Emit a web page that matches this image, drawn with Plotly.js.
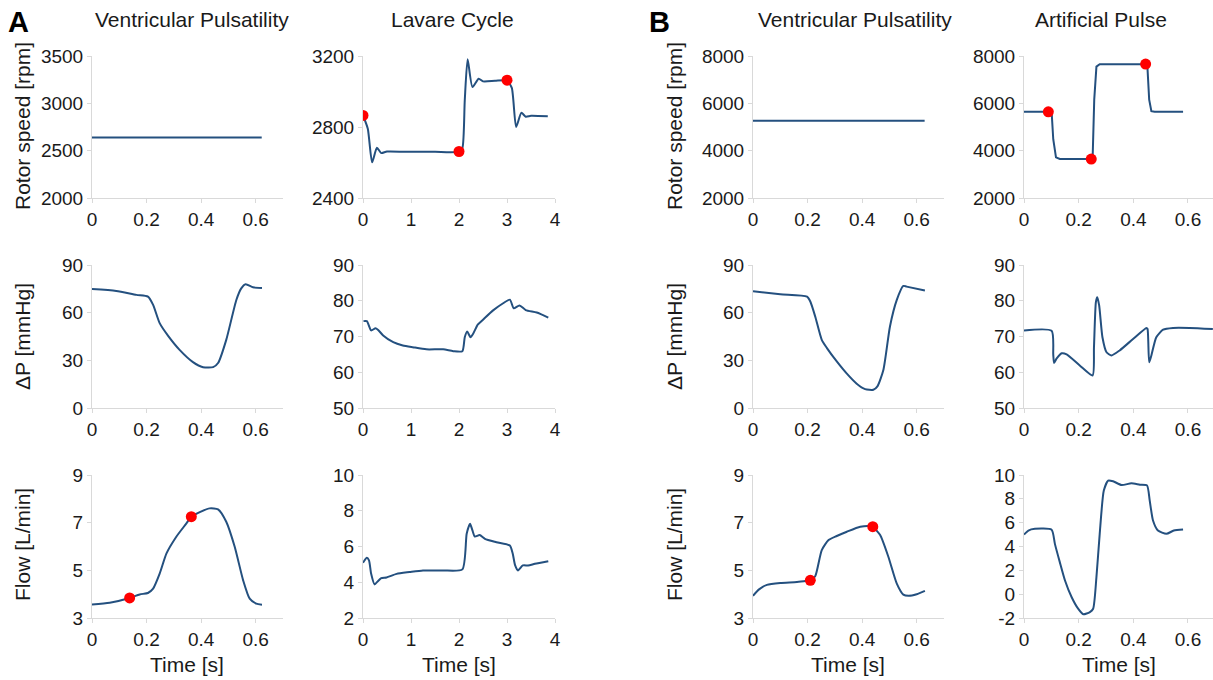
<!DOCTYPE html>
<html>
<head>
<meta charset="utf-8">
<script src="https://cdn.plot.ly/plotly-3.0.1.min.js"></script>
<style>html,body{margin:0;padding:0;background:#fff;}#chart{width:1213px;height:680px;}</style>
</head>
<body>
<div id="chart"></div>
<script>
// ---------- DATA ----------
// Panel A: Ventricular Pulsatility
const tA_vp_speed = [0, 0.622];
const A_vp_speed = [2640, 2640];

const tA_vp_dp = [0, 0.089, 0.163, 0.205, 0.224, 0.248, 0.279, 0.321, 0.37, 0.407, 0.444, 0.462, 0.492, 0.529, 0.547, 0.563, 0.59, 0.623];
const A_vp_dp = [74.9, 73.7, 71.2, 70.1, 64.9, 53.4, 45.4, 36.6, 28.9, 25.7, 25.7, 28.3, 42.9, 68, 75.3, 77.9, 76, 75.6];

const tA_vp_flow = [0, 0.065, 0.138, 0.175, 0.205, 0.224, 0.248, 0.273, 0.309, 0.346, 0.364, 0.395, 0.431, 0.462, 0.492, 0.523, 0.554, 0.578, 0.602, 0.623];
const A_vp_flow = [3.57, 3.64, 3.84, 3.99, 4.05, 4.23, 4.86, 5.71, 6.41, 6.97, 7.25, 7.44, 7.6, 7.56, 7.04, 5.99, 4.58, 3.81, 3.6, 3.56];
const tA_vp_flow_mk = [0.138, 0.364];
const A_vp_flow_mk = [3.84, 7.25];

// Panel A: Lavare Cycle
const tA_lc_speed = [0, 0.1, 0.19, 0.29, 0.38, 0.5, 1.0, 1.5, 2.0, 2.07, 2.12, 2.18, 2.28, 2.41, 2.5, 2.75, 3.0, 3.1, 3.19, 3.3, 3.39, 3.5, 3.85];
const A_lc_speed = [2865, 2790, 2601, 2683, 2653, 2662, 2660, 2660, 2661, 2680, 2950, 3181, 3025, 3072, 3057, 3060, 3062, 3020, 2800, 2880, 2858, 2863, 2860];
const tA_lc_speed_mk = [0, 2.0, 3.0];
const A_lc_speed_mk = [2865, 2662, 3064];

const tA_lc_dp = [0.01, 0.08, 0.17, 0.26, 0.31, 0.42, 0.63, 0.83, 1.04, 1.32, 1.67, 1.88, 2.07, 2.12, 2.17, 2.24, 2.3, 2.39, 2.5, 2.71, 2.92, 3.06, 3.14, 3.26, 3.39, 3.62, 3.86];
const A_lc_dp = [74.3, 74.3, 71.7, 72.3, 71.9, 70.3, 68.4, 67.5, 67, 66.4, 66.4, 65.9, 65.9, 69.8, 71.4, 69.8, 70.9, 73.3, 74.7, 77.3, 79.3, 80.3, 77.9, 78.7, 77.4, 76.7, 75.3];

const tA_lc_flow = [0, 0.08, 0.125, 0.17, 0.24, 0.31, 0.38, 0.49, 0.7, 0.97, 1.25, 1.67, 2.07, 2.16, 2.23, 2.28, 2.33, 2.43, 2.54, 2.78, 3.06, 3.12, 3.17, 3.23, 3.33, 3.44, 3.58, 3.86];
const A_lc_flow = [5.09, 5.37, 5.22, 4.47, 3.88, 4.06, 4.23, 4.27, 4.47, 4.57, 4.66, 4.66, 4.72, 6.71, 7.27, 6.9, 6.56, 6.64, 6.43, 6.24, 6.05, 5.59, 4.94, 4.66, 4.94, 4.94, 5.03, 5.18];

// Panel B: Ventricular Pulsatility
const tB_vp_speed = [0, 0.629];
const B_vp_speed = [5260, 5260];

const tB_vp_dp = [0, 0.1, 0.198, 0.21, 0.228, 0.252, 0.271, 0.307, 0.344, 0.38, 0.411, 0.441, 0.456, 0.478, 0.502, 0.527, 0.551, 0.563, 0.63];
const B_vp_dp = [73.5, 71.6, 70.1, 67, 57.6, 42.9, 37.7, 29.3, 21.6, 15.3, 11.9, 11.5, 13.6, 24.1, 51.3, 68, 76.8, 76.4, 73.9];

const tB_vp_flow = [0, 0.021, 0.051, 0.1, 0.161, 0.198, 0.21, 0.228, 0.252, 0.277, 0.307, 0.344, 0.393, 0.429, 0.439, 0.466, 0.496, 0.527, 0.551, 0.57, 0.6, 0.63];
const B_vp_flow = [3.93, 4.19, 4.39, 4.47, 4.51, 4.56, 4.58, 4.75, 5.85, 6.27, 6.44, 6.62, 6.83, 6.86, 6.83, 6.48, 5.57, 4.44, 3.98, 3.93, 4.0, 4.14];
const tB_vp_flow_mk = [0.21, 0.439];
const B_vp_flow_mk = [4.58, 6.83];

// Panel B: Artificial Pulse
const tB_ap_speed = [0, 0.101, 0.107, 0.117, 0.131, 0.251, 0.257, 0.265, 0.277, 0.451, 0.458, 0.466, 0.478, 0.582];
const B_ap_speed = [5642, 5642, 4484, 3716, 3647, 3647, 6158, 7553, 7651, 7651, 6158, 5670, 5642, 5642];
const tB_ap_speed_mk = [0.089, 0.246, 0.445];
const B_ap_speed_mk = [5640, 3647, 7660];

const tB_ap_dp = [0, 0.101, 0.107, 0.11, 0.119, 0.138, 0.156, 0.204, 0.251, 0.256, 0.263, 0.268, 0.275, 0.287, 0.302, 0.32, 0.35, 0.399, 0.448, 0.452, 0.458, 0.466, 0.484, 0.509, 0.545, 0.606, 0.691];
const B_ap_dp = [71.7, 71.6, 65.0, 62.6, 63.8, 65.3, 65, 61.9, 59.1, 67, 79.6, 81, 78.7, 69.8, 65.6, 64.7, 66.1, 69.3, 72.4, 72.1, 62.8, 64.7, 69.8, 71.9, 72.4, 72.4, 72.1];

const tB_ap_flow = [0, 0.016, 0.04, 0.101, 0.113, 0.131, 0.15, 0.174, 0.198, 0.217, 0.241, 0.253, 0.265, 0.277, 0.292, 0.308, 0.326, 0.357, 0.393, 0.424, 0.45, 0.46, 0.472, 0.49, 0.521, 0.548, 0.582];
const B_ap_flow = [5.0, 5.34, 5.48, 5.4, 4.22, 2.69, 1.15, -0.24, -1.22, -1.69, -1.5, -1.22, 1.43, 5.06, 8.69, 9.53, 9.47, 9.16, 9.3, 9.19, 9.13, 7.85, 6.18, 5.34, 5.06, 5.34, 5.42];

// Tick values
const xTicks_short = [0, 0.2, 0.4, 0.6];
const xTicks_long = [0, 1, 2, 3, 4];
const yTicks_A_vp_speed = [2000, 2500, 3000, 3500];
const yTicks_A_lc_speed = [2400, 2800, 3200];
const yTicks_B_speed = [2000, 4000, 6000, 8000];
const yTicks_dp_vp = [0, 30, 60, 90];
const yTicks_dp_other = [50, 60, 70, 80, 90];
const yTicks_flow_vp = [3, 5, 7, 9];
const yTicks_A_lc_flow = [2, 4, 6, 8, 10];
const yTicks_B_ap_flow = [-2, 0, 2, 4, 6, 8, 10];

// Labels
const panelLetters = ['A', 'B'];
const columnTitles = ['Ventricular Pulsatility', 'Lavare Cycle', 'Ventricular Pulsatility', 'Artificial Pulse'];
const rowTitles = ['Rotor speed [rpm]', '\u0394P [mmHg]', 'Flow [L/min]'];
const xTitle = 'Time [s]';

// ---------- LAYOUT GEOMETRY (pixels) ----------
const W = 1213, H = 680;
const colPx = [[92, 283], [363, 555], [753, 944], [1024, 1213]];
const rowPx = [[56, 198], [265, 408], [475, 618]];
const xRanges = [[0, 0.7], [0, 4], [0, 0.7], [0, 0.6915]];
const xTicks = [xTicks_short, xTicks_long, xTicks_short, xTicks_short];
const yTicks = [
  [yTicks_A_vp_speed, yTicks_A_lc_speed, yTicks_B_speed, yTicks_B_speed],
  [yTicks_dp_vp, yTicks_dp_other, yTicks_dp_vp, yTicks_dp_other],
  [yTicks_flow_vp, yTicks_A_lc_flow, yTicks_flow_vp, yTicks_B_ap_flow]
];

const series = [
  [[tA_vp_speed, A_vp_speed], [tA_lc_speed, A_lc_speed], [tB_vp_speed, B_vp_speed], [tB_ap_speed, B_ap_speed]],
  [[tA_vp_dp, A_vp_dp], [tA_lc_dp, A_lc_dp], [tB_vp_dp, B_vp_dp], [tB_ap_dp, B_ap_dp]],
  [[tA_vp_flow, A_vp_flow], [tA_lc_flow, A_lc_flow], [tB_vp_flow, B_vp_flow], [tB_ap_flow, B_ap_flow]]
];
const markers = {
  '0_1': [tA_lc_speed_mk, A_lc_speed_mk],
  '0_3': [tB_ap_speed_mk, B_ap_speed_mk],
  '2_0': [tA_vp_flow_mk, A_vp_flow_mk],
  '2_2': [tB_vp_flow_mk, B_vp_flow_mk]
};

const lineColor = '#24507f';
const axisColor = '#d9d9d9';
const textColor = '#1a1a1a';
const fontFam = 'Liberation Sans, Arial, sans-serif';
const tickSize = 19;
const titleSize = 21;

const data = [];
const layout = {
  width: W, height: H,
  margin: {l: 0, r: 0, t: 0, b: 0},
  paper_bgcolor: '#fff', plot_bgcolor: '#fff',
  showlegend: false,
  font: {family: fontFam, color: textColor, size: tickSize},
  annotations: []
};

for (let r = 0; r < 3; r++) {
  for (let c = 0; c < 4; c++) {
    const idx = r * 4 + c + 1;
    const xn = idx === 1 ? 'x' : 'x' + idx;
    const yn = idx === 1 ? 'y' : 'y' + idx;
    const xk = idx === 1 ? 'xaxis' : 'xaxis' + idx;
    const yk = idx === 1 ? 'yaxis' : 'yaxis' + idx;
    const [tx, vy] = series[r][c];
    const stepLike = (r === 0 && c === 3);
    data.push({
      x: tx, y: vy, xaxis: xn, yaxis: yn, type: 'scatter', mode: 'lines',
      line: {color: lineColor, width: 2, shape: stepLike ? 'linear' : 'spline', smoothing: 0.6},
      hoverinfo: 'skip'
    });
    const mk = markers[r + '_' + c];
    if (mk) {
      data.push({
        x: mk[0], y: mk[1], xaxis: xn, yaxis: yn, type: 'scatter', mode: 'markers',
        marker: {color: '#ff0000', size: 11}, hoverinfo: 'skip'
      });
    }
    const yt = yTicks[r][c];
    layout[xk] = {
      domain: [colPx[c][0] / W, colPx[c][1] / W],
      anchor: yn, range: xRanges[c], tickvals: xTicks[c], ticktext: xTicks[c].map(String),
      showgrid: false, zeroline: false, showline: true, linecolor: axisColor, linewidth: 1,
      ticks: 'outside', ticklen: 4, tickcolor: axisColor,
      tickfont: {size: tickSize, color: textColor, family: fontFam}, fixedrange: true
    };
    layout[yk] = {
      domain: [1 - rowPx[r][1] / H, 1 - rowPx[r][0] / H],
      anchor: xn, range: [yt[0], yt[yt.length - 1]], tickvals: yt, ticktext: yt.map(String),
      showgrid: false, zeroline: false, showline: true, linecolor: axisColor, linewidth: 1,
      ticks: 'outside', ticklen: 4, tickcolor: axisColor,
      tickfont: {size: tickSize, color: textColor, family: fontFam}, fixedrange: true
    };
  }
}

// Column titles
const colTitleX = [192, 452, 855, 1101];
columnTitles.forEach((t, i) => {
  layout.annotations.push({
    text: t, xref: 'paper', yref: 'paper', x: colTitleX[i] / W, y: 1 - 19 / H,
    xanchor: 'center', yanchor: 'middle', showarrow: false,
    font: {size: titleSize, color: textColor, family: fontFam}
  });
});
// Panel letters
const letterX = [18, 659];
panelLetters.forEach((t, i) => {
  layout.annotations.push({
    text: '<b>' + t + '</b>', xref: 'paper', yref: 'paper', x: letterX[i] / W, y: 1 - 22 / H,
    xanchor: 'center', yanchor: 'middle', showarrow: false,
    font: {size: 29, color: '#000', family: fontFam}
  });
});
// Row (y-axis) titles for columns 1 and 3
const rowTitleY = [126, 337, 545];
const rowTitleX = [22, 674];
rowTitleX.forEach(xp => {
  rowTitles.forEach((t, r) => {
    layout.annotations.push({
      text: t, xref: 'paper', yref: 'paper', x: xp / W, y: 1 - rowTitleY[r] / H,
      xanchor: 'center', yanchor: 'middle', showarrow: false, textangle: -90,
      font: {size: titleSize, color: textColor, family: fontFam}
    });
  });
});
// X titles
const xTitleX = [187, 459, 848, 1119];
xTitleX.forEach(xp => {
  layout.annotations.push({
    text: xTitle, xref: 'paper', yref: 'paper', x: xp / W, y: 1 - 664 / H,
    xanchor: 'center', yanchor: 'middle', showarrow: false,
    font: {size: titleSize, color: textColor, family: fontFam}
  });
});

Plotly.newPlot('chart', data, layout, {displayModeBar: false, staticPlot: true});
</script>
</body>
</html>
